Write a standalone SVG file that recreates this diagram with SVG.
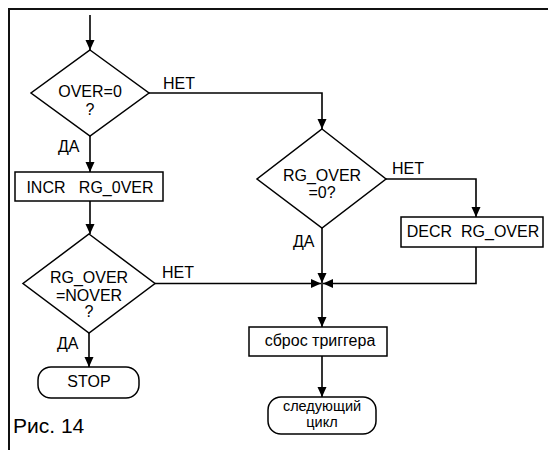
<svg xmlns="http://www.w3.org/2000/svg" width="548" height="450" viewBox="0 0 548 450">
<style>
.s{fill:#fff;stroke:#000;stroke-width:1.5}
.c{fill:none;stroke:#000;stroke-width:1.6}
.t{font-family:"Liberation Sans",Arial,sans-serif;font-size:16px;fill:#000}
.m{text-anchor:middle}
.f{stroke:#111;stroke-width:2;fill:none}
</style>
<defs>
<marker id="a" markerUnits="userSpaceOnUse" markerWidth="10" markerHeight="10" viewBox="0 0 10 10" refX="10" refY="5" orient="auto">
<path d="M0,0.5 L10,5 L0,9.5 Z" fill="#000"/>
</marker>
</defs>
<rect width="548" height="450" fill="#fff"/>
<g id="frame">
<path class="f" d="M548,9 H9 V450"/>
</g>
<g id="connectors">
<path class="c" d="M90,15 V50" marker-end="url(#a)"/>
<path class="c" d="M149,93 H322 V129" marker-end="url(#a)"/>
<path class="c" d="M90,136 V172" marker-end="url(#a)"/>
<path class="c" d="M90,201 V234" marker-end="url(#a)"/>
<path class="c" d="M89,333 V367" marker-end="url(#a)"/>
<path class="c" d="M155,283.5 H321" marker-end="url(#a)"/>
<path class="c" d="M322,228 V283" marker-end="url(#a)"/>
<path class="c" d="M386,179 H476 V217" marker-end="url(#a)"/>
<path class="c" d="M476,247 V283.5 H323" marker-end="url(#a)"/>
<path class="c" d="M322,283 V327" marker-end="url(#a)"/>
<path class="c" d="M322,356 V397" marker-end="url(#a)"/>
</g>
<g id="d1">
<polygon class="s" points="90,50 149,93 90,136 31,93"/>
<text class="t m" x="90" y="97">OVER=0</text>
<text class="t m" x="90" y="115">?</text>
</g>
<g id="l1"><text class="t" x="163" y="89">НЕТ</text></g>
<g id="l2"><text class="t" x="58" y="152">ДА</text></g>
<g id="incr">
<rect class="s" x="15" y="172" width="148" height="29"/>
<text class="t m" x="90" y="193" xml:space="preserve">INCR   RG_0VER</text>
</g>
<g id="d2">
<polygon class="s" points="322,129 386,179 322,228 257,179"/>
<text class="t m" x="322" y="181">RG_OVER</text>
<text class="t m" x="322" y="198">=0?</text>
</g>
<g id="l3"><text class="t" x="392" y="174">НЕТ</text></g>
<g id="l4"><text class="t" x="293" y="247">ДА</text></g>
<g id="decr">
<rect class="s" x="401" y="217" width="142" height="30"/>
<text class="t m" x="473" y="237" xml:space="preserve">DECR  RG_OVER</text>
</g>
<g id="d3">
<polygon class="s" points="89,234 155,283.5 89,333 23,283.5"/>
<text class="t m" x="89" y="283">RG_OVER</text>
<text class="t m" x="89" y="301">=NOVER</text>
<text class="t m" x="89" y="317">?</text>
</g>
<g id="l5"><text class="t" x="162" y="278">НЕТ</text></g>
<g id="l6"><text class="t" x="57" y="349">ДА</text></g>
<g id="stop">
<rect class="s" x="38" y="367" width="101" height="31" rx="13"/>
<text class="t m" x="89" y="387">STOP</text>
</g>
<g id="reset">
<rect class="s" x="249" y="327" width="138" height="29"/>
<text class="t m" x="320" y="346">сброс триггера</text>
</g>
<g id="next">
<rect class="s" x="268" y="397" width="108" height="37" rx="13"/>
<text class="t m" x="322" y="411" style="font-size:14.5px">следующий</text>
<text class="t m" x="322" y="427" style="font-size:14.5px">цикл</text>
</g>
<g id="caption"><text class="t" x="13" y="433" style="font-size:21px">Рис. 14</text></g>
</svg>
